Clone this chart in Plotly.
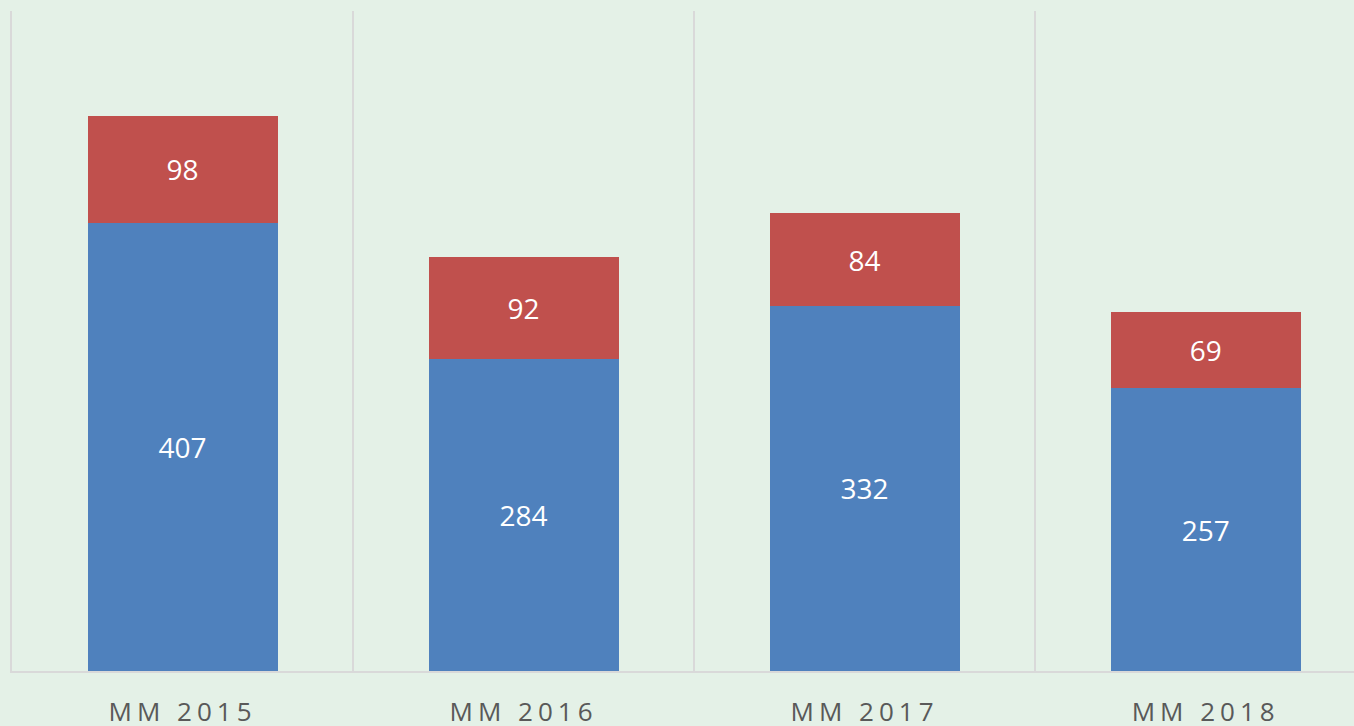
import plotly.graph_objects as go

categories = ["MM 2015", "MM 2016", "MM 2017", "MM 2018"]
blue_values = [407, 284, 332, 257]
red_values = [98, 92, 84, 69]

BLUE = "#4F81BD"
RED = "#C0504D"
BG = "#E4F1E7"
GRID = "#D9D9D9"

fig = go.Figure()
fig.add_trace(go.Bar(
    x=categories, y=blue_values, marker=dict(color=BLUE, line=dict(width=0)),
    text=blue_values, textposition="inside", insidetextanchor="middle",
    textfont=dict(color="white", size=28, family="Open Sans"), name="A",
))
fig.add_trace(go.Bar(
    x=categories, y=red_values, marker=dict(color=RED, line=dict(width=0)),
    text=red_values, textposition="inside", insidetextanchor="middle",
    textfont=dict(color="white", size=28, family="Open Sans"), name="B",
))

fig.update_layout(
    barmode="stack",
    bargap=0.443,
    width=1354, height=726,
    margin=dict(l=12, r=0, t=11, b=55),
    paper_bgcolor=BG, plot_bgcolor=BG,
    showlegend=False,
    uniformtext=dict(mode=False),
)
fig.update_xaxes(
    type="category",
    range=[-0.5, 3.435],
    tickson="boundaries",
    automargin=False,
    showgrid=True, gridcolor=GRID, gridwidth=2,
    showline=True, linecolor=GRID, linewidth=2,
    ticks="", ticklabelstandoff=17,
    tickfont=dict(family="Open Sans", size=26, color="#595959"),
    zeroline=False,
)
fig.update_yaxes(
    range=[0, 600],
    automargin=False,
    showgrid=False, zeroline=False,
    showline=True, linecolor=GRID, linewidth=2,
    showticklabels=False, ticks="",
)

post = """
function ls(){document.querySelectorAll('.xtick text').forEach(function(t){t.style.letterSpacing='5px';});}
ls(); setTimeout(ls, 50); setTimeout(ls, 300);
"""
fig.write_html("out.html", post_script=post)
